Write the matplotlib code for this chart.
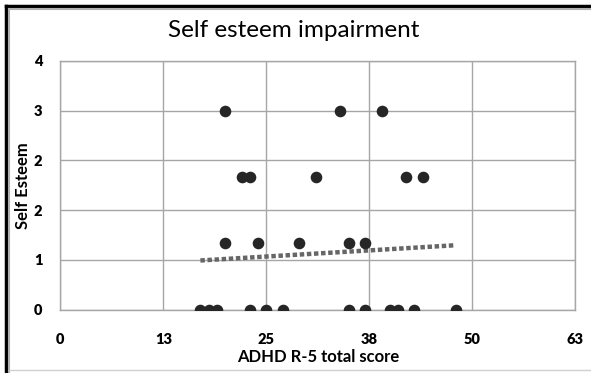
import matplotlib
matplotlib.use("Agg")
import matplotlib.pyplot as plt
from matplotlib.lines import Line2D

# ADHD R-5 total score vs self esteem rating
x_vals = [17, 18, 19, 23, 25, 27, 35, 37, 40, 41, 43, 48,
          20, 24, 29, 35, 37,
          22, 23, 31, 42, 44,
          20, 34, 39]
y_vals = [0] * 12 + [1] * 5 + [2] * 5 + [3] * 3

# linear trend line end points
trend_x = [17, 48]
trend_y = [0.74, 0.97]

x_ticks = [0, 12.5, 25, 37.5, 50, 62.5]
y_ticks = [0, 0.75, 1.5, 2.25, 3, 3.75]

plt.rcParams['font.family'] = ['Lato', 'DejaVu Sans']

fig = plt.figure(figsize=(5.91, 3.73), dpi=100)
ax = fig.add_axes([0.1022, 0.1702, 0.973 - 0.1022, 0.8365 - 0.1702])

grid_col = '#a6a6a6'
ax.set_xlim(0, 62.5)
ax.set_ylim(0, 3.75)
ax.set_xticks(x_ticks)
ax.set_yticks(y_ticks)
ax.set_xticklabels(['%.0f' % round(v + 0.01) for v in x_ticks], fontweight='heavy', fontsize=10.5)
ax.set_yticklabels(['%.0f' % round(v + 0.01) for v in y_ticks], fontweight='heavy', fontsize=10.5)
ax.tick_params(axis='x', length=0, pad=17)
ax.tick_params(axis='y', length=0, pad=13)
ax.grid(True, color=grid_col, linewidth=1)
ax.set_axisbelow(True)
for s in ax.spines.values():
    s.set_color(grid_col)
    s.set_linewidth(1)

ax.plot(trend_x, trend_y, linestyle=(0, (1, 0.6)), color='#666666', linewidth=3.2, zorder=2)
ax.scatter(x_vals, y_vals, s=54, color='#262626', zorder=3)

ax.set_xlabel('ADHD R-5 total score', fontweight='bold', fontsize=12, labelpad=2)
ax.set_ylabel('Self Esteem', fontweight='bold', fontsize=12, labelpad=2)
fig.text(0.497, 0.918, 'Self esteem impairment', ha='center', va='center', fontsize=17.5)

# frame around the chart
fig.add_artist(Line2D([0.010, 1.0], [0.984, 0.984], color='black', linewidth=2.5))
fig.add_artist(Line2D([0.010, 0.010], [0.0, 0.984], color='black', linewidth=2.5))
fig.add_artist(Line2D([0.016, 1.0], [0.975, 0.975], color='#b0b0b0', linewidth=1.5))
fig.add_artist(Line2D([0.016, 0.016], [0.0, 0.975], color='#b0b0b0', linewidth=1.5))
fig.add_artist(Line2D([0.016, 1.0], [0.008, 0.008], color='#d0d0d0', linewidth=1))

fig.savefig('out.png', dpi=100)
